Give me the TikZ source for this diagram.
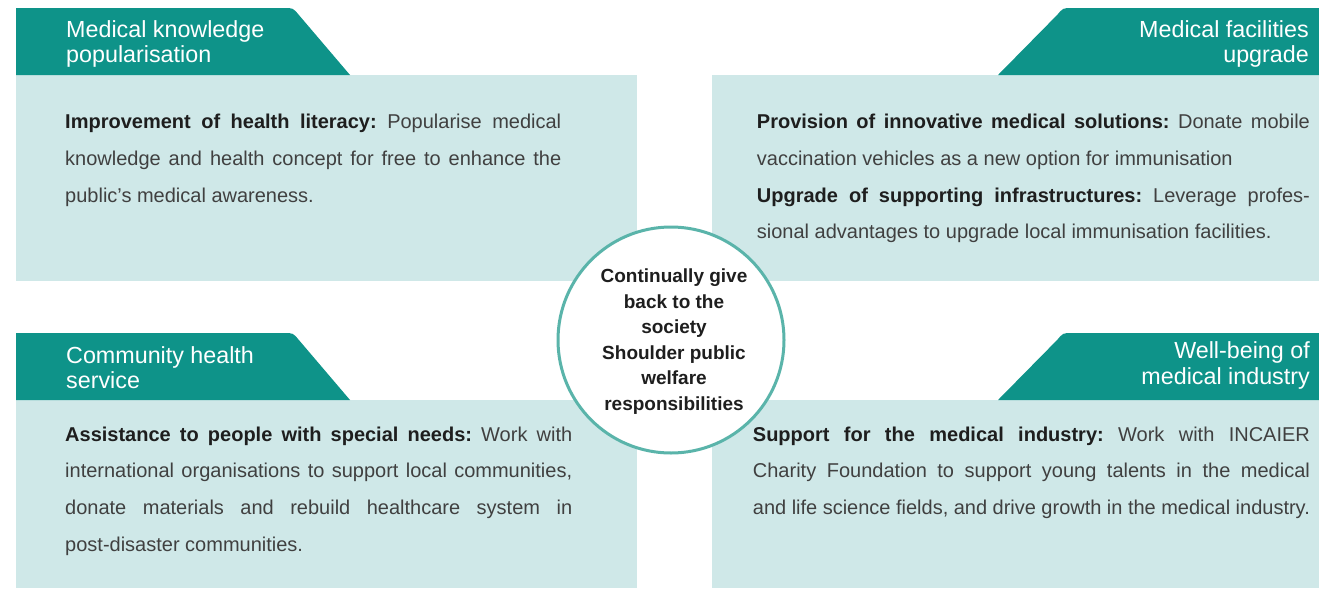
\documentclass[tikz,border=0pt]{standalone}
\usepackage{fontspec}
\setmainfont{Liberation Sans}
\definecolor{tealdark}{HTML}{0E9389}
\definecolor{lightbg}{HTML}{CFE8E8}
\definecolor{ringcol}{HTML}{5AB4AA}
\definecolor{bodytxt}{HTML}{404040}
\definecolor{boldtxt}{HTML}{1E1E1E}
\newcommand{\hd}[1]{{\bfseries\color{boldtxt}#1}}
\newcommand{\jl}[2]{\makebox[#1][s]{#2}}
\begin{document}
\begin{tikzpicture}[x=1pt,y=-1pt,
  panel/.style={fill=lightbg},
  tabshape/.style={fill=tealdark},
  tabtext/.style={text=white, font=\fontsize{23.3}{25.5}\selectfont, inner sep=0pt},
  bodytext/.style={text=bodytxt, font=\frenchspacing\fontsize{20}{36.7}\selectfont, inner sep=0pt, anchor=north west, align=left},
  ringnode/.style={circle, draw=ringcol, line width=3pt, fill=white, minimum size=226pt, inner sep=0pt},
  ringtext/.style={text=boldtxt, font=\bfseries\fontsize{19}{25.5}\selectfont, align=center, inner sep=0pt, anchor=north}
  ]
\useasboundingbox (0,0) rectangle (1319,589);
\fill[white] (0,0) rectangle (1319,589);

% panels
\fill[panel] (16,75) rectangle (637,281);
\fill[panel] (712,75) rectangle (1319,281);
\fill[panel] (16,400) rectangle (637,588);
\fill[panel] (712,400) rectangle (1319,588);

% tabs
\fill[tabshape] (16,75) -- (16,8) -- (284,8) .. controls (293,8) .. (298.8,14.9) -- (350,75) -- cycle;
\fill[tabshape] (1319,75) -- (1319,8) -- (1072,8) .. controls (1063,8) .. (1057.2,14.9) -- (998,75) -- cycle;
\fill[tabshape] (16,400) -- (16,333) -- (284,333) .. controls (293,333) .. (298.8,339.9) -- (350,400) -- cycle;
\fill[tabshape] (1319,400) -- (1319,333) -- (1072,333) .. controls (1063,333) .. (1057.2,339.9) -- (998,400) -- cycle;

% tab titles
\node[tabtext, anchor=north west, align=left] (t1) at (66,20.2) {Medical knowledge\\popularisation};
\node[tabtext, anchor=north east, align=right] (t2) at (1309,20.2) {Medical facilities\\upgrade};
\node[tabtext, anchor=north west, align=left] (t3) at (66,346) {Community health\\service};
\node[tabtext, anchor=north east, align=right] (t4) at (1310,341.6) {Well-being of\\medical industry};

% body texts
\node[bodytext] (b1) at (65,114) {\jl{496pt}{\hd{Improvement of health literacy:} Popularise medical}\\\jl{496pt}{knowledge and health concept for free to enhance the}\\public{\char"27}s medical awareness.};
\node[bodytext] (b2) at (756.7,114) {\jl{553pt}{\hd{Provision of innovative medical solutions:} Donate mobile}\\vaccination vehicles as a new option for immunisation\\\jl{553pt}{\hd{Upgrade of supporting infrastructures:} Leverage profes-}\\sional advantages to upgrade local immunisation facilities.};
\node[bodytext] (b3) at (65,426.4) {\jl{507pt}{\hd{Assistance to people with special needs:} Work with}\\\jl{507pt}{international organisations to support local communities,}\\\jl{507pt}{donate materials and rebuild healthcare system in}\\post-disaster communities.};
\node[bodytext] (b4) at (752.7,426.4) {\jl{557pt}{\hd{Support for the medical industry:} Work with INCAIER}\\\jl{557pt}{Charity Foundation to support young talents in the medical}\\\jl{557pt}{and life science fields, and drive growth in the medical industry.}};

% centre circle
\node[ringnode] (ring) at (671,340) {};
\node[ringtext] (ringlbl) at (674,269) {Continually give\\back to the\\society\\Shoulder public\\welfare\\responsibilities};
\end{tikzpicture}
\end{document}
